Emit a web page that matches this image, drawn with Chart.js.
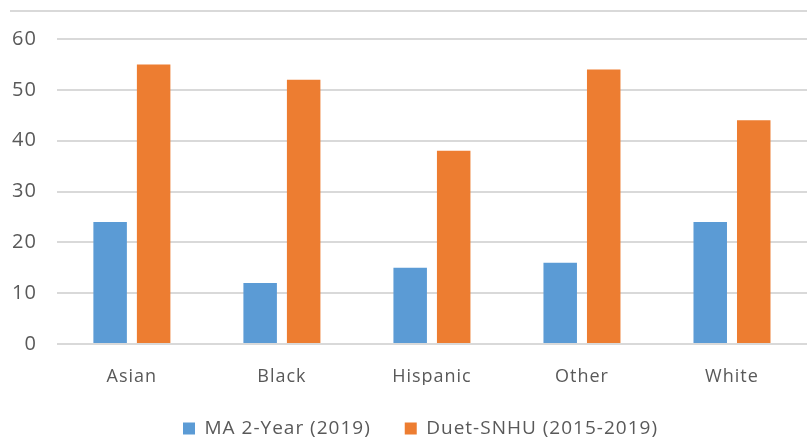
<!DOCTYPE html>
<html>
<head>
<meta charset="utf-8">
<script src="https://cdn.jsdelivr.net/npm/chart.js@4/dist/chart.umd.min.js"></script>
<style>
  html, body { margin: 0; padding: 0; background: #fff; }
  #wrap { position: relative; width: 807px; height: 439px; }
  #topline { position: absolute; left: 10px; right: 0; top: 10px; border-top: 2px solid #d9d9d9; }
</style>
</head>
<body>
<div id="wrap">
  <div id="topline"></div>
  <canvas id="chart" width="807" height="439"></canvas>
</div>
<script>
const categories = ["Asian", "Black", "Hispanic", "Other", "White"];
const ma2Year = [24, 12, 15, 16, 24];
const duetSnhu = [55, 52, 38, 54, 44];
const seriesNames = ["MA 2-Year (2019)", "Duet-SNHU (2015-2019)"];
const yTicks = [0, 10, 20, 30, 40, 50, 60];

const font = "'Open Sans', 'Liberation Sans', sans-serif";

// original text is a little spaced out, and the legend sits a bit right of center
const tweaks = {
  id: "tweaks",
  beforeUpdate(chart) { chart.ctx.letterSpacing = "1px"; },
  afterLayout(chart) {
    chart.legend.left += 21;
    chart.legend.right += 21;
  },
  beforeDraw(chart) { chart.ctx.letterSpacing = "1px"; },
};

new Chart(document.getElementById("chart"), {
  type: "bar",
  data: {
    labels: categories,
    datasets: [
      { label: seriesNames[0], data: ma2Year, backgroundColor: "#5b9bd5" },
      { label: seriesNames[1], data: duetSnhu, backgroundColor: "#ed7d31" },
    ],
  },
  plugins: [tweaks],
  options: {
    responsive: false,
    animation: false,
    layout: { padding: { top: 39, right: 0, left: -8, bottom: -9 } },
    datasets: { bar: { categoryPercentage: 0.58, barPercentage: 0.77 } },
    scales: {
      x: {
        grid: { display: false, drawTicks: false },
        border: { display: false },
        ticks: { color: "#595959", font: { family: font, size: 18 }, padding: 22 },
        afterFit: (axis) => { axis.height = 41; },
      },
      y: {
        min: 0,
        max: 60,
        afterBuildTicks: (axis) => { axis.ticks = yTicks.map(v => ({ value: v })); },
        grid: { color: "#d9d9d9", lineWidth: 2, drawTicks: false },
        border: { display: false },
        ticks: { color: "#595959", font: { family: font, size: 20 }, padding: 20 },
      },
    },
    plugins: {
      legend: {
        position: "bottom",
        labels: {
          color: "#595959",
          font: { family: font, size: 19 },
          boxWidth: 12,
          boxHeight: 12,
          padding: 34,
        },
      },
      tooltip: { enabled: false },
    },
  },
});
</script>
</body>
</html>
